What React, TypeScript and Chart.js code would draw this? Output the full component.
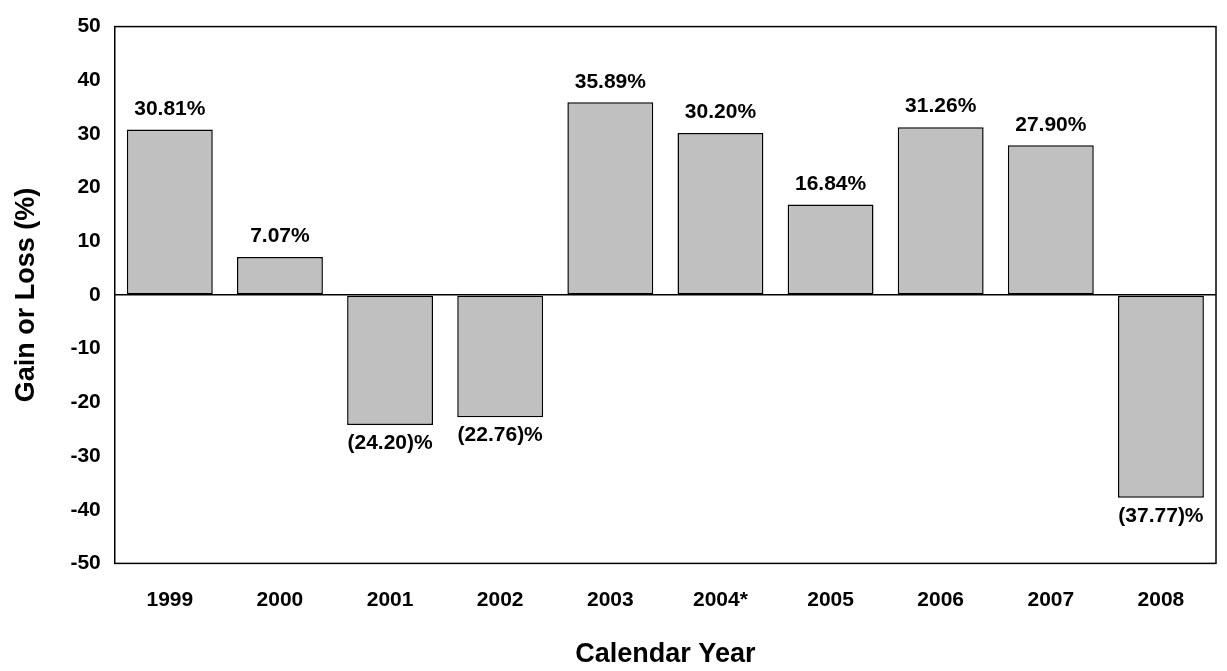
import { useEffect, useRef } from "react"
import { Chart, registerables } from "chart.js"

Chart.register(...registerables)

const years = ["1999", "2000", "2001", "2002", "2003", "2004*", "2005", "2006", "2007", "2008"]
const returns = [30.81, 7.07, -24.2, -22.76, 35.89, 30.2, 16.84, 31.26, 27.9, -37.77]
const FONT = "'Liberation Sans', Arial, sans-serif"

const fmt = (v: number) => (v < 0 ? `(${Math.abs(v).toFixed(2)})%` : `${v.toFixed(2)}%`)

const valueLabels = {
  id: "valueLabels",
  afterDatasetsDraw(chart: Chart) {
    const ctx = chart.ctx
    const meta = chart.getDatasetMeta(0)
    ctx.save()
    ctx.font = `bold 21px ${FONT}`
    ctx.fillStyle = "#000"
    ctx.textAlign = "center"
    meta.data.forEach((bar: any, i: number) => {
      const v = returns[i]
      if (v >= 0) {
        ctx.textBaseline = "bottom"
        ctx.fillText(fmt(v), bar.x, bar.y - 10)
      } else {
        ctx.textBaseline = "top"
        ctx.fillText(fmt(v), bar.x, bar.y + 8)
      }
    })
    ctx.restore()
  },
  afterDraw(chart: Chart) {
    const { left, top, width, height } = chart.chartArea
    const ctx = chart.ctx
    ctx.save()
    ctx.strokeStyle = "#000"
    ctx.lineWidth = 1.5
    ctx.strokeRect(left, top, width, height)
    ctx.restore()
  },
}

export default function App() {
  const chartRef = useRef<HTMLCanvasElement>(null)
  const chartInstance = useRef<Chart | null>(null)

  useEffect(() => {
    document.body.style.margin = "0"
    if (!chartRef.current) return
    if (chartInstance.current) chartInstance.current.destroy()

    chartInstance.current = new Chart(chartRef.current, {
      type: "bar",
      data: {
        labels: years,
        datasets: [
          {
            data: returns,
            backgroundColor: "#c0c0c0",
            borderColor: "#000",
            borderWidth: 1.5,
            borderSkipped: false,
            barPercentage: 0.78,
            categoryPercentage: 1,
          },
        ],
      },
      options: {
        responsive: true,
        maintainAspectRatio: false,
        animation: false,
        layout: { padding: { top: 10, right: 11, left: 6, bottom: 0 } },
        plugins: { legend: { display: false }, tooltip: { enabled: false } },
        scales: {
          x: {
            grid: { display: false },
            border: { display: false },
            ticks: { color: "#000", font: { family: FONT, size: 21, weight: "bold" }, padding: 16 },
            title: { display: true, text: "Calendar Year", color: "#000", font: { family: FONT, size: 27, weight: "bold" }, padding: { top: 10, bottom: 0 } },
          },
          y: {
            min: -50,
            max: 50,
            ticks: { stepSize: 10, color: "#000", font: { family: FONT, size: 21, weight: "bold" }, padding: 14 },
            grid: {
              drawTicks: false,
              color: (c: any) => (c.tick && c.tick.value === 0 ? "#000" : "rgba(0,0,0,0)"),
              lineWidth: 1.5,
            },
            border: { display: false },
            title: { display: true, text: "Gain or Loss (%)", color: "#000", font: { family: FONT, size: 27, weight: "bold" }, padding: { bottom: 14 } },
          },
        },
      },
      plugins: [valueLabels],
    })

    return () => {
      if (chartInstance.current) chartInstance.current.destroy()
    }
  }, [])

  return (
    <div style={{ width: 1227, height: 671 }}>
      <canvas ref={chartRef} />
    </div>
  )
}
